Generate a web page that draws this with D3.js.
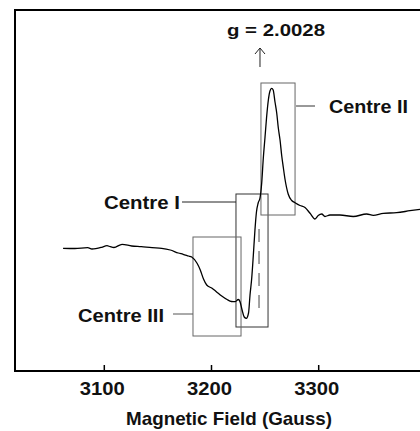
<!DOCTYPE html>
<html>
<head>
<meta charset="utf-8">
<script src="https://cdn.jsdelivr.net/npm/d3@7"></script>
<style>
  html, body { margin: 0; padding: 0; background: #fff; }
  svg { display: block; }
  text { font-family: "Liberation Sans", Arial, sans-serif; font-weight: bold; fill: #111; }
</style>
</head>
<body>
<svg id="chart" width="420" height="431"></svg>
<script>
// EPR first-derivative spectrum: magnetic field (G) vs signal (arbitrary units)
const field = [3062, 3073, 3085, 3089, 3098, 3103, 3106, 3109.5, 3117, 3126, 3135, 3145, 3154,
  3162, 3169.5, 3174, 3179, 3182, 3187, 3190, 3193, 3196, 3201, 3205, 3210, 3215, 3219, 3222.4,
  3225.5, 3227, 3229, 3231, 3233, 3235, 3236.4, 3238, 3239.5, 3241, 3242.4, 3244, 3245.7, 3247.3,
  3248.8, 3250.4, 3251.8, 3253.5, 3255, 3256.6, 3258, 3259.7, 3261.3, 3262.8, 3264.4, 3266,
  3267.4, 3269, 3272, 3275.3, 3278.4, 3283, 3287.7, 3292.4, 3297, 3300, 3303.3, 3306.3, 3311,
  3320.3, 3332.7, 3345.2, 3351.4, 3360.7, 3373.2, 3385.6, 3395];
const signal = [-0.3, -0.5, 0.3, -1, 0.7, 2.3, 1.3, 0.5, 3.7, 2, 1.3, 0.3, -0.3,
  -2, -5, -6.3, -8, -9, -15.3, -22, -31, -37, -40.3, -43.7, -48, -51.5, -53.5, -53.7,
  -51.5, -53.5, -62, -69, -70.3, -65, -47, -30, -7, 18, 36, 45, 50, 65,
  90, 111, 130, 148, 157, 159.7, 158, 146, 135, 120, 108, 92,
  81, 69, 54, 47.5, 45.3, 42.5, 40.5, 34.7, 29, 32.5, 34, 31.5, 33,
  33, 31.5, 34, 32.7, 34.7, 35.3, 37.3, 38.7];

const tickValues = [3100, 3200, 3300];
const axisTitle = "Magnetic Field (Gauss)";

// Paramagnetic centres: label, field span (G), signal span (a.u.)
const centreNames = ["Centre I", "Centre II", "Centre III"];
const centreField = [[3223.3, 3253.2], [3246.6, 3278.4], [3183.2, 3228]];
const centreSignal = [[54, -79], [165, 33], [11, -88]];

const gLabel = "g = 2.0028";
const gField = 3245.7;
const dashField = 3244.8;
const dashSignal = [19, -67];

const svg = d3.select("#chart");
const x = d3.scaleLinear().domain([3050, 3400]).range([50.2, 425.4]);
const y = d3.scaleLinear().domain([-123, 239]).range([371, 9]);

// wide bold lettering
function label(xp, yp, str, size, width, anchor) {
  return svg.append("text").attr("x", xp).attr("y", yp)
    .attr("text-anchor", anchor || "start").attr("font-size", size)
    .attr("textLength", width).attr("lengthAdjust", "spacingAndGlyphs")
    .text(str);
}

// frame: left and top edges
svg.append("path")
  .attr("d", `M15,371V10H420`)
  .attr("fill", "none").attr("stroke", "#000").attr("stroke-width", 2);

// bottom axis with inward ticks
const axis = d3.axisBottom(x).tickValues(tickValues).tickSizeInner(-6).tickSizeOuter(0).tickPadding(16)
  .tickFormat(d3.format("d"));
const gAxis = svg.append("g").attr("transform", `translate(0,${y(-123)})`).call(axis);
gAxis.select(".domain").attr("d", "M14,0H420").attr("stroke", "#000").attr("stroke-width", 2);
gAxis.selectAll(".tick line").attr("stroke", "#000").attr("stroke-width", 1.5);
gAxis.selectAll(".tick text")
  .attr("font-family", "Liberation Sans, Arial, sans-serif")
  .attr("font-weight", "bold").attr("font-size", 19).attr("fill", "#111")
  .attr("textLength", 45).attr("lengthAdjust", "spacingAndGlyphs")
  .attr("x", -2).attr("y", 0).attr("dy", 24);

label(229, 425, axisTitle, 19, 206, "middle");

// centre boxes
const boxStroke = ["#333", "#666", "#666"];
centreNames.forEach((name, i) => {
  const [f0, f1] = centreField[i];
  const [s0, s1] = centreSignal[i];
  svg.append("rect")
    .attr("x", x(f0)).attr("y", y(s0))
    .attr("width", x(f1) - x(f0)).attr("height", y(s1) - y(s0))
    .attr("fill", "none").attr("stroke", boxStroke[i]).attr("stroke-width", 1);
});

// dashed line marking g position
svg.append("line")
  .attr("x1", x(dashField)).attr("x2", x(dashField))
  .attr("y1", y(dashSignal[0])).attr("y2", y(dashSignal[1]))
  .attr("stroke", "#444").attr("stroke-width", 1).attr("stroke-dasharray", "13,9");

// spectrum trace
const line = d3.line().x((d, i) => x(field[i])).y((d, i) => y(signal[i])).curve(d3.curveMonotoneX);
svg.append("path").datum(field).attr("d", line)
  .attr("fill", "none").attr("stroke", "#000").attr("stroke-width", 1.3);

// labels and leader lines
const boxI = centreField[0], boxII = centreField[1], boxIII = centreField[2];
svg.append("line").attr("x1", x(boxII[1]) + 1).attr("x2", 315).attr("y1", 106).attr("y2", 106)
  .attr("stroke", "#333").attr("stroke-width", 1);
label(329, 113, centreNames[1], 19, 79);

svg.append("line").attr("x1", 182).attr("x2", x(boxI[0])).attr("y1", 202).attr("y2", 202)
  .attr("stroke", "#222").attr("stroke-width", 1);
label(104, 209, centreNames[0], 19, 76);

svg.append("line").attr("x1", 173).attr("x2", x(boxIII[0])).attr("y1", 314).attr("y2", 314)
  .attr("stroke", "#555").attr("stroke-width", 1);
label(78, 322, centreNames[2], 19, 86);

// g-value marker
const gx = x(gField);
svg.append("path").attr("d", `M${gx},67V48M${gx - 5},54L${gx},48L${gx + 5},54`)
  .attr("fill", "none").attr("stroke", "#222").attr("stroke-width", 1);
label(227, 36, gLabel, 17, 98);
</script>
</body>
</html>
